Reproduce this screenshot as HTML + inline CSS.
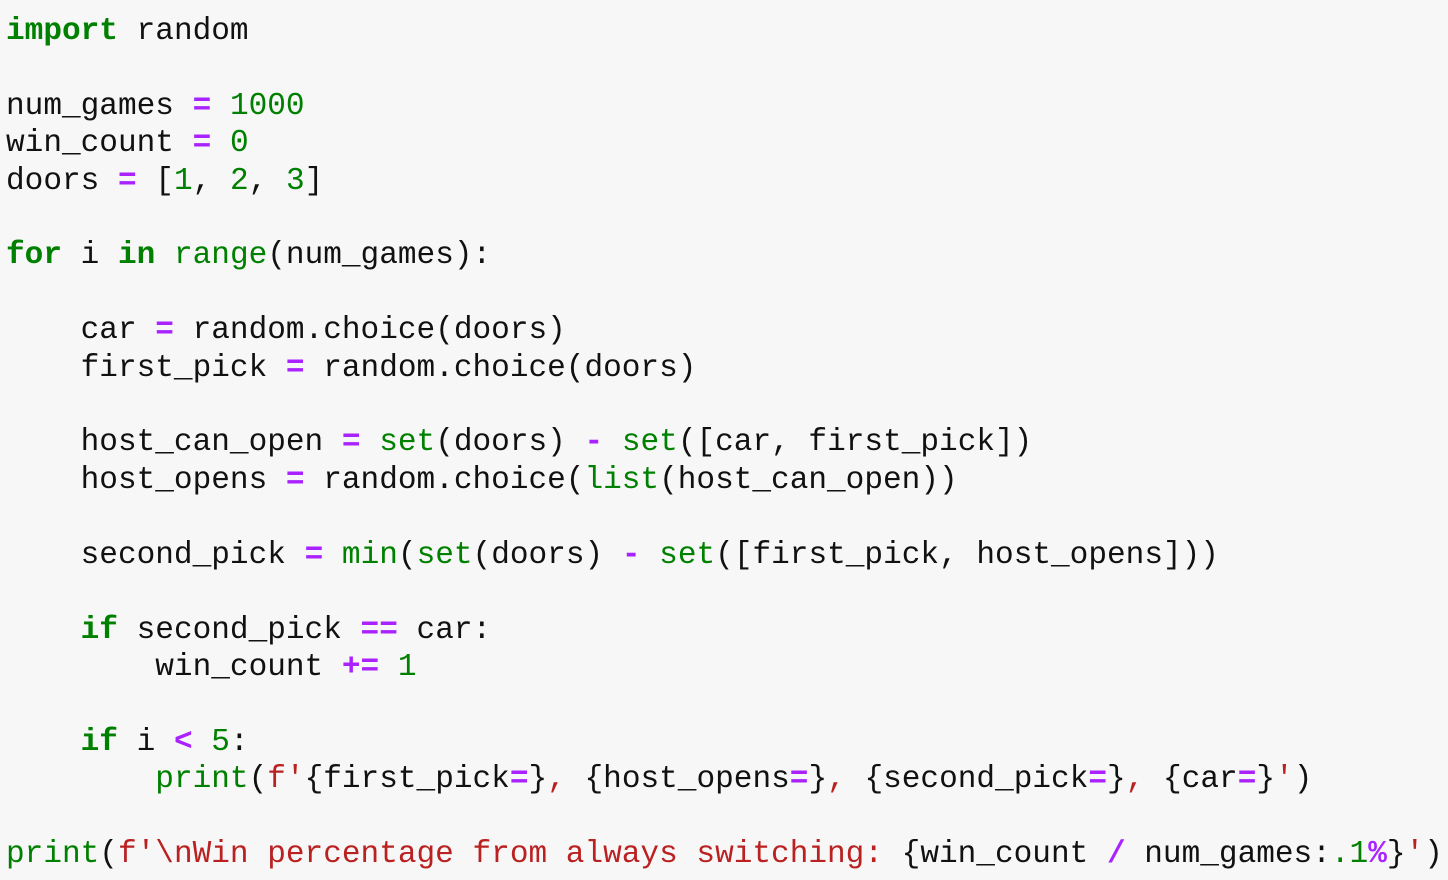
<!DOCTYPE html>
<html><head><meta charset="utf-8"><style>
html,body{margin:0;padding:0;background:#f7f7f7;width:1448px;height:880px;overflow:hidden}
pre{margin:0;padding:13px 0 0 6px;font-family:"Liberation Mono",monospace;font-size:31.1px;line-height:37.4px;color:#111}
.k{color:#008000;font-weight:bold}
.b{color:#008000}
.n{color:#008000}
.o{color:#aa22ff;font-weight:bold}
.s{color:#ba2121}
</style></head><body><pre><span class="k">import</span> random

num_games <span class="o">=</span> <span class="n">1000</span>
win_count <span class="o">=</span> <span class="n">0</span>
doors <span class="o">=</span> [<span class="n">1</span>, <span class="n">2</span>, <span class="n">3</span>]

<span class="k">for</span> i <span class="k">in</span> <span class="b">range</span>(num_games):

    car <span class="o">=</span> random.choice(doors)
    first_pick <span class="o">=</span> random.choice(doors)

    host_can_open <span class="o">=</span> <span class="b">set</span>(doors) <span class="o">-</span> <span class="b">set</span>([car, first_pick])
    host_opens <span class="o">=</span> random.choice(<span class="b">list</span>(host_can_open))

    second_pick <span class="o">=</span> <span class="b">min</span>(<span class="b">set</span>(doors) <span class="o">-</span> <span class="b">set</span>([first_pick, host_opens]))

    <span class="k">if</span> second_pick <span class="o">==</span> car:
        win_count <span class="o">+=</span> <span class="n">1</span>

    <span class="k">if</span> i <span class="o">&lt;</span> <span class="n">5</span>:
        <span class="b">print</span>(<span class="s">f'</span>{first_pick<span class="o">=</span>}<span class="s">, </span>{host_opens<span class="o">=</span>}<span class="s">, </span>{second_pick<span class="o">=</span>}<span class="s">, </span>{car<span class="o">=</span>}<span class="s">'</span>)

<span class="b">print</span>(<span class="s">f'\nWin percentage from always switching: </span>{win_count <span class="o">/</span> num_games:<span class="n">.1</span><span class="o">%</span>}<span class="s">'</span>)</pre></body></html>
